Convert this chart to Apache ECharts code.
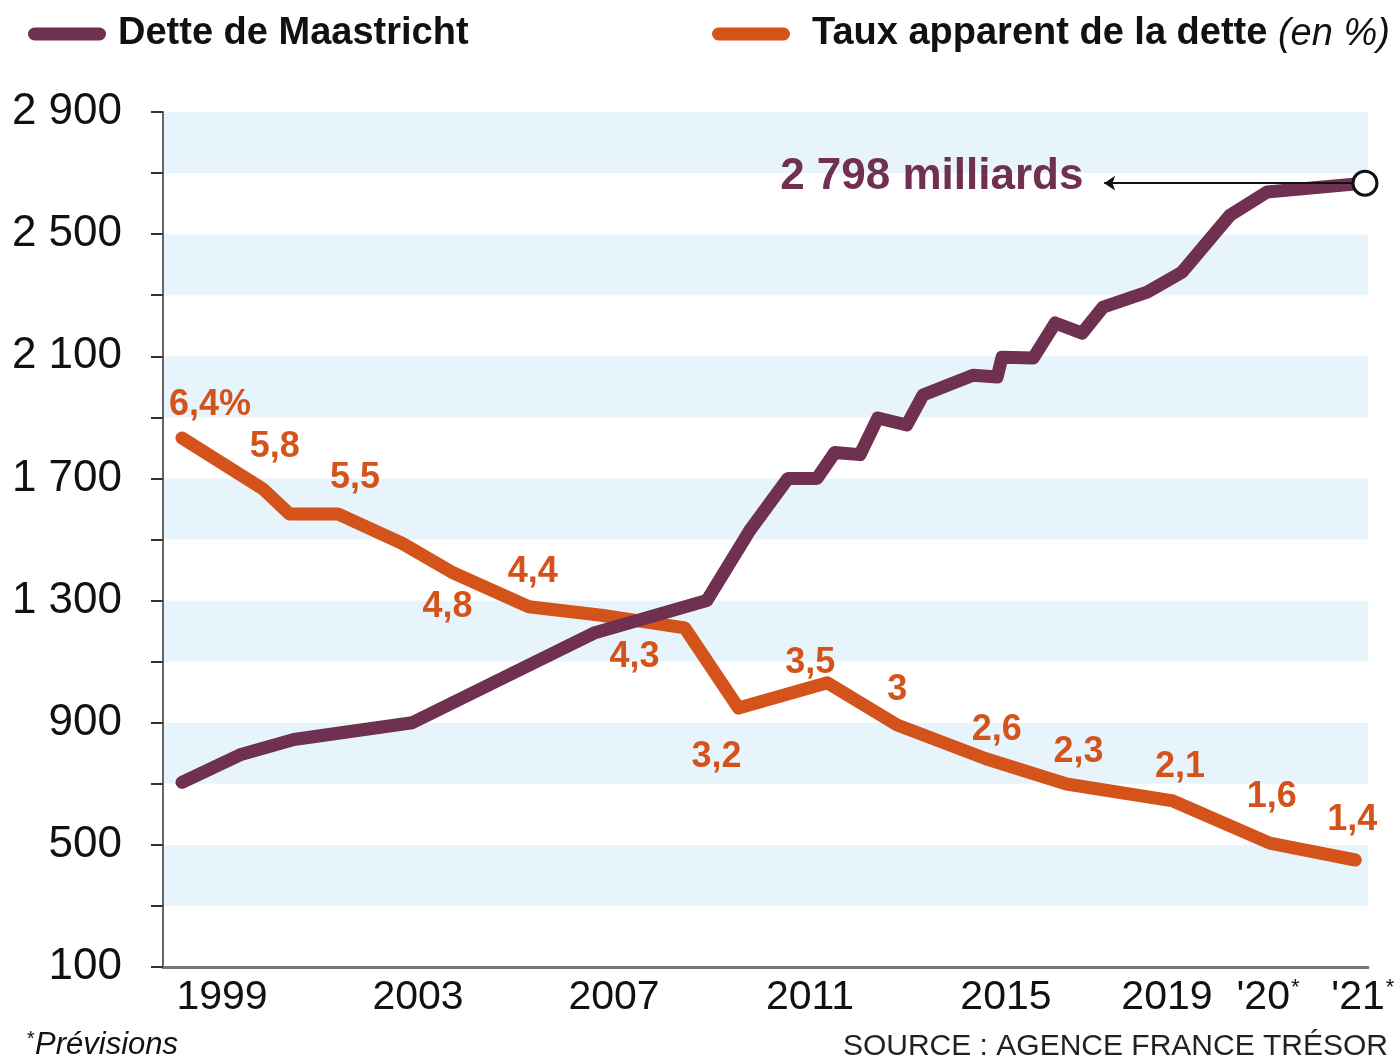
<!DOCTYPE html>
<html>
<head>
<meta charset="utf-8">
<title>Dette de Maastricht et taux apparent</title>
<script src="https://cdn.jsdelivr.net/npm/echarts@6/dist/echarts.min.js"></script>
<style>
html, body { margin: 0; padding: 0; background: #fff; }
#chart { width: 1398px; height: 1057px; }
</style>
</head>
<body>
<div id="chart"></div>
<script>
var FONT = '"Liberation Sans Narrow", "Arial Narrow", "Liberation Sans", sans-serif';
var PURPLE = '#70304f';
var ORANGE = '#d4531a';

// Dette de Maastricht (milliards)
var debtYears = [1999, 2000.08, 2001.08, 2003.28, 2006.68, 2008.76, 2009.56, 2010.27, 2010.81,
	2011.14, 2011.61, 2011.94, 2012.48, 2012.78, 2013.71, 2014.16, 2014.25, 2014.83,
	2015.24, 2015.74, 2016.13, 2016.95, 2017.6, 2018.49, 2019.18, 2021];
var debtValues = [705, 795, 845, 900, 1195, 1300, 1530, 1700, 1700,
	1785, 1778, 1898, 1875, 1973, 2038, 2032, 2097, 2094,
	2209, 2176, 2261, 2310, 2376, 2562, 2638, 2667];
var debtForecast2021 = 2798;
var arrowEndYear = 2016.15;

// Taux apparent de la dette (%)
var rateYears = [1999, 2000.5, 2001, 2001.9, 2003.1, 2004.05, 2005.45, 2006.8, 2008.35,
	2009.35, 2011, 2012.3, 2013.95, 2015.45, 2017.43, 2019.23, 2020.82];
var rateValues = [6.4, 5.8, 5.5, 5.5, 5.15, 4.8, 4.4, 4.3, 4.15,
	3.2, 3.5, 3.0, 2.6, 2.3, 2.1, 1.6, 1.4];
var rateLabels = ['6,4%', '5,8', '', '5,5', '', '4,8', '4,4', '4,3', '',
	'3,2', '3,5', '3', '2,6', '2,3', '2,1', '1,6', '1,4'];
// label offsets (px) from each point
var rateLabelOffsets = [[28, -33], [12, -42], null, [17, -36], null, [-6, 34], [4, -35], [33, 42], null,
	[-22, 49], [-17, -20], [0, -35], [11, -29], [12, -32], [7, -34], [2, -46], [-3, -40]];

// x axis labels
var xTickLabels = ['1999', '2003', '2007', '2011', '2015', '2019', "'20", "'21"];
var xTickStar = [false, false, false, false, false, false, true, true];
var xTickAt = [1999.744, 2003.389, 2007.034, 2010.679, 2014.324, 2017.318, 2019.197, 2020.96];

var xMin = 1998.6467, xMax = 2021.0567;

function fmtThousands(v) {
	if (v < 1000) return String(v);
	var r = String(v % 1000);
	while (r.length < 3) r = '0' + r;
	return Math.floor(v / 1000) + ' ' + r;
}

var chart = echarts.init(document.getElementById('chart'));

var debtData = [];
for (var i = 0; i < debtYears.length; i++) {
	var item = { value: [debtYears[i], debtValues[i]] };
	if (i == debtYears.length - 1) {
		item.symbol = 'circle';
		item.symbolSize = 24;
		item.itemStyle = { color: '#ffffff', borderColor: '#111111', borderWidth: 3 };
		item.label = {
			show: true,
			position: 'left',
			distance: 268,
			offset: [0, -6],
			formatter: fmtThousands(debtForecast2021) + ' milliards',
			fontFamily: FONT,
			fontWeight: 'bold',
			fontSize: 44,
			color: PURPLE
		};
	}
	debtData.push(item);
}

var rateData = [];
for (var i = 0; i < rateYears.length; i++) {
	var item = { value: [rateYears[i], rateValues[i]] };
	if (rateLabels[i]) {
		item.label = {
			show: true,
			position: 'inside',
			offset: rateLabelOffsets[i],
			formatter: rateLabels[i]
		};
	}
	rateData.push(item);
}

var lastYear = debtYears[debtYears.length - 1];
var lastValue = debtValues[debtValues.length - 1];
var pillIcon = 'path://M6.5,0 L71.5,0 A6.5,6.5 0 0 1 71.5,13 L6.5,13 A6.5,6.5 0 0 1 6.5,0 Z';

var option = {
	animation: false,
	backgroundColor: '#ffffff',
	legend: [{
		data: ['Dette de Maastricht'],
		left: 28,
		top: 15,
		padding: 0,
		selectedMode: false,
		icon: pillIcon,
		itemWidth: 78,
		itemHeight: 13,
		textStyle: { fontFamily: FONT, fontSize: 38, fontWeight: 'bold', color: '#111', padding: [0, 0, 0, 7] }
	}, {
		data: ['Taux apparent de la dette'],
		left: 712,
		top: 15,
		padding: 0,
		selectedMode: false,
		icon: pillIcon,
		itemWidth: 78,
		itemHeight: 13,
		formatter: function (name) {
			return '{b|' + name + ' }{i|(en %)}';
		},
		textStyle: {
			padding: [0, 0, 0, 17],
			rich: {
				b: { fontFamily: FONT, fontSize: 38, fontWeight: 'bold', color: '#111' },
				i: { fontFamily: FONT, fontSize: 38, fontStyle: 'italic', color: '#111' }
			}
		}
	}],
	grid: { left: 163, right: 30, top: 112, bottom: 90, outerBoundsMode: 'none' },
	xAxis: {
		type: 'value',
		min: xMin,
		max: xMax,
		axisLine: { show: true, onZero: false, lineStyle: { color: '#777', width: 3 } },
		axisTick: { show: false },
		splitLine: { show: false },
		axisLabel: {
			customValues: xTickAt,
			margin: 10,
			formatter: function (value) {
				var best = 0;
				for (var k = 1; k < xTickAt.length; k++) {
					if (Math.abs(xTickAt[k] - value) < Math.abs(xTickAt[best] - value)) best = k;
				}
				return xTickStar[best] ? '{n|' + xTickLabels[best] + '}{s|*}' : '{n|' + xTickLabels[best] + '}';
			},
			rich: {
				n: { fontFamily: FONT, fontSize: 41, color: '#111' },
				s: { fontFamily: FONT, fontSize: 22, color: '#111', verticalAlign: 'top', padding: [0, 0, 18, 1] }
			}
		}
	},
	yAxis: [{
		type: 'value',
		min: 100,
		max: 2900,
		interval: 200,
		axisLine: { show: true, lineStyle: { color: '#666', width: 2 } },
		axisTick: { show: true, length: 12, lineStyle: { color: '#333', width: 2 } },
		axisLabel: {
			margin: 41,
			fontFamily: FONT,
			fontSize: 44,
			color: '#111',
			formatter: function (v) {
				return (v - 100) % 400 === 0 ? fmtThousands(v) : '';
			}
		},
		splitLine: { show: false },
		splitArea: { show: true, areaStyle: { color: ['#ffffff', '#e8f4fc'] } }
	}, {
		type: 'value',
		min: 0.1322,
		max: 10.2626,
		show: false,
		splitLine: { show: false },
		splitArea: { show: false }
	}],
	series: [{
		name: 'Taux apparent de la dette',
		type: 'line',
		yAxisIndex: 1,
		data: rateData,
		symbol: 'circle',
		symbolSize: 0.1,
		showSymbol: true,
		itemStyle: { color: ORANGE },
		lineStyle: { color: ORANGE, width: 13, cap: 'round', join: 'round' },
		label: { fontFamily: FONT, fontWeight: 'bold', fontSize: 36, color: ORANGE },
		emphasis: { disabled: true },
		z: 2
	}, {
		name: 'Dette de Maastricht',
		type: 'line',
		yAxisIndex: 0,
		data: debtData,
		symbol: 'none',
		showSymbol: true,
		itemStyle: { color: PURPLE },
		lineStyle: { color: PURPLE, width: 13, cap: 'round', join: 'round' },
		emphasis: { disabled: true },
		z: 3,
		markLine: {
			silent: true,
			symbol: ['none', 'arrow'],
			symbolSize: 11,
			label: { show: false },
			lineStyle: { color: '#111', width: 2, type: 'solid' },
			data: [[{ coord: [lastYear - 0.22, lastValue] }, { coord: [arrowEndYear, lastValue] }]]
		}
	}],
	graphic: [
		{ type: 'text', left: 26, top: 1029, style: { text: '*', font: 'italic 20px ' + FONT, fill: '#111' } },
		{ type: 'text', left: 35, top: 1030, style: { text: 'Prévisions', font: 'italic 31px ' + FONT, fill: '#111' } },
		{ type: 'text', right: 10, top: 1032, style: { text: 'SOURCE : AGENCE FRANCE TRÉSOR', font: '30px ' + FONT, fill: '#222' } }
	]
};

chart.setOption(option);
</script>
</body>
</html>
